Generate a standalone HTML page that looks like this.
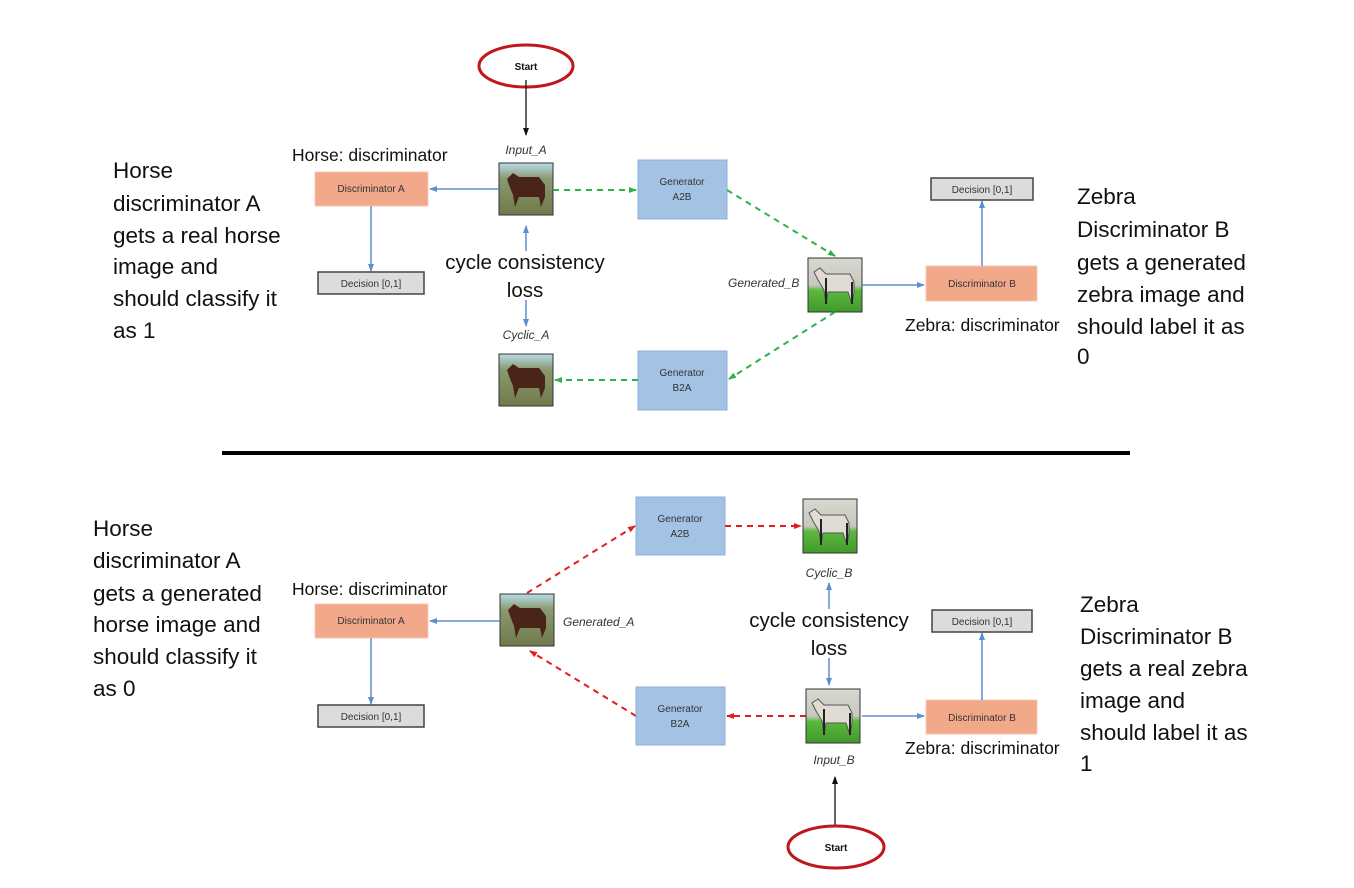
<!DOCTYPE html>
<html><head><meta charset="utf-8"><style>
html,body{margin:0;padding:0;background:#fff;}
svg{display:block;}
.s{font-family:"Liberation Sans",sans-serif;font-size:10px;fill:#333;}
.b{font-family:"Liberation Sans",sans-serif;font-size:22.5px;fill:#111;}
.c{font-family:"Liberation Sans",sans-serif;font-size:20.5px;fill:#111;}
.m{font-family:"Liberation Sans",sans-serif;font-size:17.5px;fill:#111;}
.i{font-family:"Liberation Sans",sans-serif;font-size:12px;font-style:italic;fill:#333;}
</style></head><body>
<svg width="1354" height="888" viewBox="0 0 1354 888" xmlns="http://www.w3.org/2000/svg">
<defs>
<marker id="ab" markerWidth="8" markerHeight="8" refX="7" refY="4" orient="auto" markerUnits="userSpaceOnUse"><path d="M0,1 L8,4 L0,7 z" fill="#5b8fd0"/></marker>
<marker id="ak" markerWidth="8" markerHeight="8" refX="7" refY="4" orient="auto" markerUnits="userSpaceOnUse"><path d="M0,1 L8,4 L0,7 z" fill="#111"/></marker>
<marker id="ag" markerWidth="8" markerHeight="8" refX="7" refY="4" orient="auto" markerUnits="userSpaceOnUse"><path d="M0,1 L8,4 L0,7 z" fill="#2db34a"/></marker>
<marker id="ar" markerWidth="8" markerHeight="8" refX="7" refY="4" orient="auto" markerUnits="userSpaceOnUse"><path d="M0,1 L8,4 L0,7 z" fill="#e02020"/></marker>
<linearGradient id="hz" x1="0" y1="0" x2="0" y2="1"><stop offset="0" stop-color="#b8dce8"/><stop offset="0.3" stop-color="#8a9a70"/><stop offset="1" stop-color="#6f7a4a"/></linearGradient>
<linearGradient id="zb" x1="0" y1="0" x2="0" y2="1"><stop offset="0" stop-color="#d8d8d0"/><stop offset="0.5" stop-color="#c8c8c0"/><stop offset="0.6" stop-color="#5cb83c"/><stop offset="1" stop-color="#3f9a2c"/></linearGradient>
<g id="horse"><rect x="0" y="0" width="54" height="52" fill="url(#hz)" stroke="#333" stroke-width="1"/><path d="M8,16 L14,10 L20,14 L40,14 L46,22 L46,34 L42,44 L40,34 L20,34 L16,44 L14,32 L10,22 z" fill="#4a2418"/></g>
<g id="zebra"><rect x="0" y="0" width="54" height="54" fill="url(#zb)" stroke="#333" stroke-width="1"/><path d="M6,14 L12,10 L18,16 L42,16 L46,24 L46,34 L44,46 L40,34 L20,34 L18,46 L16,32 L10,22 z" fill="#e0dcd4" stroke="#555" stroke-width="1"/><path d="M18,20 L18,46 M44,24 L44,46" stroke="#222" stroke-width="2"/></g>
</defs>

<!-- ===== TOP ===== -->
<ellipse cx="526" cy="66" rx="47" ry="21" fill="#fff" stroke="#c0161c" stroke-width="3"/>
<text x="526" y="70" text-anchor="middle" class="s" style="font-weight:bold;fill:#111">Start</text>
<line x1="526" y1="80" x2="526" y2="135" stroke="#111" stroke-width="1.3" marker-end="url(#ak)"/>
<text x="526" y="154" text-anchor="middle" class="i">Input_A</text>
<use href="#horse" x="499" y="163"/>
<text x="292" y="161" class="m">Horse: discriminator</text>
<rect x="315" y="172" width="113" height="34" fill="#f2a98a" stroke="#f7c8b4"/>
<text x="371" y="192" text-anchor="middle" class="s">Discriminator A</text>
<line x1="499" y1="189" x2="430" y2="189" stroke="#5b8fd0" stroke-width="1.5" marker-end="url(#ab)"/>
<line x1="371" y1="206" x2="371" y2="271" stroke="#5b8fd0" stroke-width="1.5" marker-end="url(#ab)"/>
<rect x="318" y="272" width="106" height="22" fill="#dcdcdc" stroke="#444" stroke-width="1.5"/>
<text x="371" y="287" text-anchor="middle" class="s">Decision [0,1]</text>
<rect x="638" y="160" width="89" height="59" fill="#a4c2e4" stroke="#8cb0da"/>
<text x="682" y="185" text-anchor="middle" class="s">Generator</text>
<text x="682" y="200" text-anchor="middle" class="s">A2B</text>
<line x1="553" y1="190" x2="636" y2="190" stroke="#2db34a" stroke-width="2" stroke-dasharray="6,5" marker-end="url(#ag)"/>
<line x1="727" y1="190" x2="835" y2="256" stroke="#2db34a" stroke-width="2" stroke-dasharray="6,5" marker-end="url(#ag)"/>
<use href="#zebra" x="808" y="258"/>
<text x="728" y="287" class="i">Generated_B</text>
<line x1="862" y1="285" x2="924" y2="285" stroke="#5b8fd0" stroke-width="1.5" marker-end="url(#ab)"/>
<rect x="926" y="266" width="111" height="35" fill="#f2a98a" stroke="#f7c8b4"/>
<text x="982" y="287" text-anchor="middle" class="s">Discriminator B</text>
<line x1="982" y1="266" x2="982" y2="201" stroke="#5b8fd0" stroke-width="1.5" marker-end="url(#ab)"/>
<rect x="931" y="178" width="102" height="22" fill="#dcdcdc" stroke="#444" stroke-width="1.5"/>
<text x="982" y="193" text-anchor="middle" class="s">Decision [0,1]</text>
<text x="905" y="331" class="m">Zebra: discriminator</text>
<line x1="835" y1="312" x2="729" y2="379" stroke="#2db34a" stroke-width="2" stroke-dasharray="6,5" marker-end="url(#ag)"/>
<rect x="638" y="351" width="89" height="59" fill="#a4c2e4" stroke="#8cb0da"/>
<text x="682" y="376" text-anchor="middle" class="s">Generator</text>
<text x="682" y="391" text-anchor="middle" class="s">B2A</text>
<line x1="638" y1="380" x2="555" y2="380" stroke="#2db34a" stroke-width="2" stroke-dasharray="6,5" marker-end="url(#ag)"/>
<text x="526" y="339" text-anchor="middle" class="i">Cyclic_A</text>
<use href="#horse" x="499" y="354"/>
<text x="525" y="269" text-anchor="middle" class="c">cycle consistency</text>
<text x="525" y="297" text-anchor="middle" class="c">loss</text>
<line x1="526" y1="251" x2="526" y2="226" stroke="#5b8fd0" stroke-width="1.5" marker-end="url(#ab)"/>
<line x1="526" y1="300" x2="526" y2="326" stroke="#5b8fd0" stroke-width="1.5" marker-end="url(#ab)"/>

<g class="b">
<text x="113" y="178">Horse</text>
<text x="113" y="211">discriminator A</text>
<text x="113" y="243">gets a real horse</text>
<text x="113" y="274">image and</text>
<text x="113" y="306">should classify it</text>
<text x="113" y="338">as 1</text>
<text x="1077" y="204">Zebra</text>
<text x="1077" y="237">Discriminator B</text>
<text x="1077" y="270">gets a generated</text>
<text x="1077" y="302">zebra image and</text>
<text x="1077" y="334">should label it as</text>
<text x="1077" y="364">0</text>
</g>

<line x1="222" y1="453" x2="1130" y2="453" stroke="#000" stroke-width="4"/>

<!-- ===== BOTTOM ===== -->
<rect x="636" y="497" width="89" height="58" fill="#a4c2e4" stroke="#8cb0da"/>
<text x="680" y="522" text-anchor="middle" class="s">Generator</text>
<text x="680" y="537" text-anchor="middle" class="s">A2B</text>
<line x1="725" y1="526" x2="801" y2="526" stroke="#e02020" stroke-width="2" stroke-dasharray="6,5" marker-end="url(#ar)"/>
<use href="#zebra" x="803" y="499"/>
<text x="829" y="577" text-anchor="middle" class="i">Cyclic_B</text>
<text x="829" y="627" text-anchor="middle" class="c">cycle consistency</text>
<text x="829" y="655" text-anchor="middle" class="c">loss</text>
<line x1="829" y1="609" x2="829" y2="583" stroke="#5b8fd0" stroke-width="1.5" marker-end="url(#ab)"/>
<line x1="829" y1="658" x2="829" y2="685" stroke="#5b8fd0" stroke-width="1.5" marker-end="url(#ab)"/>
<line x1="527" y1="593" x2="635" y2="526" stroke="#e02020" stroke-width="2" stroke-dasharray="6,5" marker-end="url(#ar)"/>
<use href="#horse" x="500" y="594"/>
<text x="563" y="626" class="i">Generated_A</text>
<line x1="636" y1="716" x2="530" y2="651" stroke="#e02020" stroke-width="2" stroke-dasharray="6,5" marker-end="url(#ar)"/>
<text x="292" y="595" class="m">Horse: discriminator</text>
<rect x="315" y="604" width="113" height="34" fill="#f2a98a" stroke="#f7c8b4"/>
<text x="371" y="624" text-anchor="middle" class="s">Discriminator A</text>
<line x1="500" y1="621" x2="430" y2="621" stroke="#5b8fd0" stroke-width="1.5" marker-end="url(#ab)"/>
<line x1="371" y1="638" x2="371" y2="704" stroke="#5b8fd0" stroke-width="1.5" marker-end="url(#ab)"/>
<rect x="318" y="705" width="106" height="22" fill="#dcdcdc" stroke="#444" stroke-width="1.5"/>
<text x="371" y="720" text-anchor="middle" class="s">Decision [0,1]</text>
<rect x="636" y="687" width="89" height="58" fill="#a4c2e4" stroke="#8cb0da"/>
<text x="680" y="712" text-anchor="middle" class="s">Generator</text>
<text x="680" y="727" text-anchor="middle" class="s">B2A</text>
<line x1="806" y1="716" x2="727" y2="716" stroke="#e02020" stroke-width="2" stroke-dasharray="6,5" marker-end="url(#ar)"/>
<use href="#zebra" x="806" y="689"/>
<line x1="862" y1="716" x2="924" y2="716" stroke="#5b8fd0" stroke-width="1.5" marker-end="url(#ab)"/>
<rect x="926" y="700" width="111" height="34" fill="#f2a98a" stroke="#f7c8b4"/>
<text x="982" y="721" text-anchor="middle" class="s">Discriminator B</text>
<line x1="982" y1="700" x2="982" y2="633" stroke="#5b8fd0" stroke-width="1.5" marker-end="url(#ab)"/>
<rect x="932" y="610" width="100" height="22" fill="#dcdcdc" stroke="#444" stroke-width="1.5"/>
<text x="982" y="625" text-anchor="middle" class="s">Decision [0,1]</text>
<text x="905" y="754" class="m">Zebra: discriminator</text>
<text x="834" y="764" text-anchor="middle" class="i">Input_B</text>
<line x1="835" y1="830" x2="835" y2="777" stroke="#111" stroke-width="1.3" marker-end="url(#ak)"/>
<ellipse cx="836" cy="847" rx="48" ry="21" fill="#fff" stroke="#c0161c" stroke-width="3"/>
<text x="836" y="851" text-anchor="middle" class="s" style="font-weight:bold;fill:#111">Start</text>

<g class="b">
<text x="93" y="536">Horse</text>
<text x="93" y="568">discriminator A</text>
<text x="93" y="601">gets a generated</text>
<text x="93" y="632">horse image and</text>
<text x="93" y="664">should classify it</text>
<text x="93" y="696">as 0</text>
<text x="1080" y="612">Zebra</text>
<text x="1080" y="644">Discriminator B</text>
<text x="1080" y="676">gets a real zebra</text>
<text x="1080" y="708">image and</text>
<text x="1080" y="740">should label it as</text>
<text x="1080" y="771">1</text>
</g>
</svg>
</body></html>
